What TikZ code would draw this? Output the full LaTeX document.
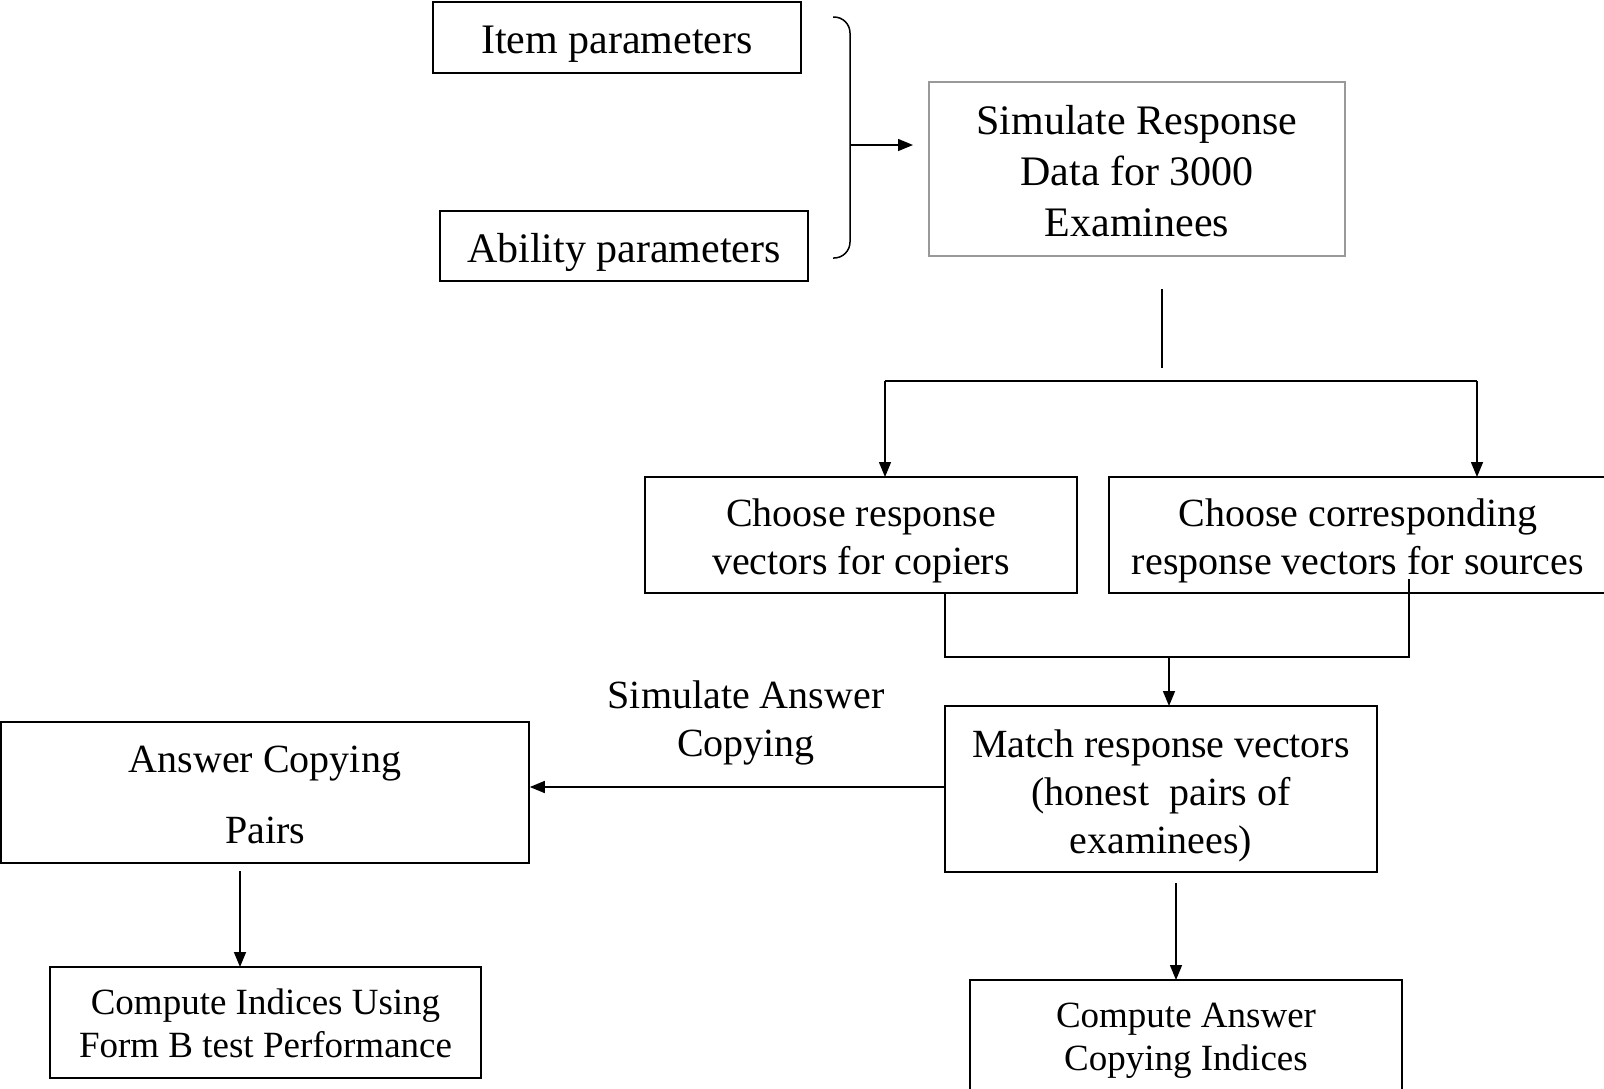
\documentclass[tikz,border=0pt]{standalone}
\usepackage{fontspec}
\setmainfont{Liberation Serif}
\usetikzlibrary{arrows.meta}
\tikzset{
  box/.style={draw, line width=1.6pt, inner sep=0pt},
  txt/.style={inner sep=0pt, align=center},
  big/.style={font=\fontsize{42}{51}\selectfont},
  mid/.style={font=\fontsize{40}{48}\selectfont},
  sml/.style={font=\fontsize{37}{43}\selectfont},
  conn/.style={line width=1.5pt},
  arr/.style={line width=1.5pt, -{Triangle[length=15pt,width=12pt]}}
}
\begin{document}
\begin{tikzpicture}[x=1pt,y=-1pt]
\useasboundingbox (0,0) rectangle (1604,1088);
% boxes
\node[box,minimum width=368pt,minimum height=71pt] (item) at (617,37.5) {};
\node[box,minimum width=368pt,minimum height=70pt] (abil) at (624,246) {};
\node[box,draw=black!40,minimum width=416pt,minimum height=174pt] (sim) at (1137,169) {};
\node[box,minimum width=432pt,minimum height=116pt] (cop) at (861,535) {};
\node[box,minimum width=498pt,minimum height=116pt] (src) at (1358,535) {};
\node[box,minimum width=432pt,minimum height=166pt] (match) at (1161,789) {};
\node[box,minimum width=528pt,minimum height=141pt] (pairs) at (265,792.5) {};
\node[box,minimum width=431pt,minimum height=111pt] (ind) at (265.5,1022.5) {};
\node[box,minimum width=432pt,minimum height=112pt] (cai) at (1186,1036) {};
% texts
\node[txt,big] (item-t) at ([yshift=-7pt]item.center) {Item parameters};
\node[txt,big] (abil-t) at ([yshift=-6pt]abil.center) {Ability parameters};
\node[txt,big] (sim-t) at ([yshift=-2pt]sim.center) {Simulate Response\\Data for 3000\\Examinees};
\node[txt,mid] (cop-t) at ([yshift=-6pt]cop.center) {Choose response\\vectors for copiers};
\node[txt,mid] (src-t) at ([yshift=-6pt]src.center) {Choose corresponding\\response vectors for sources};
\node[txt,mid] (match-t) at ([yshift=-7pt]match.center) {Match response vectors\\(honest\ \ pairs of\\examinees)};
\node[txt,font=\fontsize{40}{71}\selectfont] (pairs-t) at ([yshift=-2pt]pairs.center) {Answer Copying\\Pairs};
\node[txt,sml] (ind-t) at ([yshift=-1pt]ind.center) {Compute Indices Using\\Form B test Performance};
\node[txt,sml] (cai-t) at ([yshift=-5pt]cai.center) {Compute Answer\\Copying Indices};
\node[txt,mid] (lab) at (746,723) {Simulate Answer\\Copying};
% brace
\draw[conn, rounded corners=16pt] (833,17) -- (850,17) -- (850,258) -- (833,258);
\coordinate (bm) at (850,145);
\draw[arr] (bm) -- (913,145);
% split
\coordinate (s1) at (1162,289);
\coordinate (s2) at (1162,368);
\draw[conn] (s1) -- (s2);
\coordinate (hl) at (885,381);
\coordinate (hr) at (1477,381);
\draw[conn] (hl) -- (hr);
\draw[arr] (hl) -- (885,477);
\draw[arr] (hr) -- (1477,477);
% merge
\coordinate (m1) at (945,593);
\coordinate (m2) at (1409,579);
\draw[conn] (m1) -- (945,657) -- (1409,657) -- (m2);
\coordinate (mc) at (1169,657);
\draw[arr] (mc) -- (1169,706);
% left arrow
\draw[arr] (match.west |- 0,787) -- (pairs.east |- 0,787);
% downs
\coordinate (p1) at (240,871);
\draw[arr] (p1) -- (240,967);
\coordinate (q1) at (1176,883);
\draw[arr] (q1) -- (1176,980);
\end{tikzpicture}
\end{document}
